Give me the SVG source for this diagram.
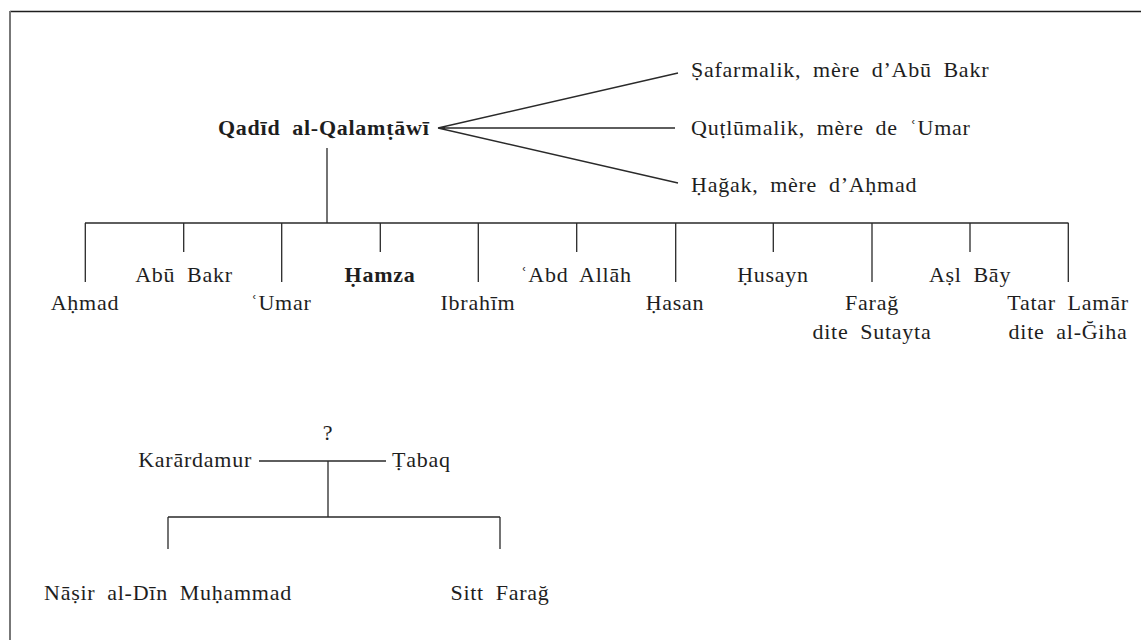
<svg xmlns="http://www.w3.org/2000/svg" width="1141" height="640" viewBox="0 0 1141 640">
<style>
text{font-family:"Liberation Serif","Times New Roman",Times,serif;font-size:22px;fill:#1e1e1e;letter-spacing:0.75px;word-spacing:5.5px}
.b{font-weight:bold}
.m{text-anchor:middle}
.e{text-anchor:end}
.ln{stroke:#2a2a2a;stroke-width:1.3;fill:none}
</style>
<rect width="1141" height="640" fill="#fff"/>
<g id="frame">
<line x1="10" y1="11.5" x2="1141" y2="11.5" stroke="#1e1e1e" stroke-width="1.6"/>
<line x1="10" y1="11" x2="10" y2="640" stroke="#777" stroke-width="2"/>
</g>
<g id="connectors" class="ln">
<path d="M438 128 L678 73 M438 128 L675 128 M438 128 L678 183"/>
<path d="M327 148 V223 M85 223 H1068.5"/>
<path d="M85.3 223 V282 M281.7 223 V282 M478.3 223 V282 M675.7 223 V282 M872 223 V282 M1068.3 223 V282"/>
<path d="M183.7 223 V252 M380.3 223 V252 M576.7 223 V252 M773.3 223 V252 M970 223 V252"/>
<path d="M259 461 H386 M328 461 V517 M168 517 H500 M168 517 V549 M500 517 V549"/>
</g>
<g id="n-qadid"><text class="b" x="218" y="135">Qadīd al-Qalamṭāwī</text></g>
<g id="n-safarmalik"><text x="691" y="77">Ṣafarmalik, mère d’Abū Bakr</text></g>
<g id="n-qutlumalik"><text x="691" y="135">Quṭlūmalik, mère de ʿUmar</text></g>
<g id="n-hagak"><text x="691" y="192">Ḥağak, mère d’Aḥmad</text></g>
<g id="n-ahmad"><text class="m" x="85" y="310">Aḥmad</text></g>
<g id="n-abubakr"><text class="m" x="184" y="282">Abū Bakr</text></g>
<g id="n-umar"><text class="m" x="281" y="310">ʿUmar</text></g>
<g id="n-hamza"><text class="m b" x="380" y="282">Ḥamza</text></g>
<g id="n-ibrahim"><text class="m" x="478" y="310">Ibrahīm</text></g>
<g id="n-abdallah"><text class="m" x="576" y="282">ʿAbd Allāh</text></g>
<g id="n-hasan"><text class="m" x="675" y="310">Ḥasan</text></g>
<g id="n-husayn"><text class="m" x="773" y="282">Ḥusayn</text></g>
<g id="n-farag"><text class="m" x="872" y="310">Farağ</text><text class="m" x="872" y="339">dite Sutayta</text></g>
<g id="n-aslbay"><text class="m" x="970" y="282">Aṣl Bāy</text></g>
<g id="n-tatar"><text class="m" x="1068" y="310">Tatar Lamār</text><text class="m" x="1068" y="339">dite al-Ğiha</text></g>
<g id="n-unknown"><text class="m" x="328" y="440">?</text></g>
<g id="n-karardamur"><text class="e" x="252" y="467">Karārdamur</text></g>
<g id="n-tabaq"><text x="392" y="467">Ṭabaq</text></g>
<g id="n-nasir"><text class="m" x="168" y="600">Nāṣir al-Dīn Muḥammad</text></g>
<g id="n-sittfarag"><text class="m" x="500" y="600">Sitt Farağ</text></g>
</svg>
